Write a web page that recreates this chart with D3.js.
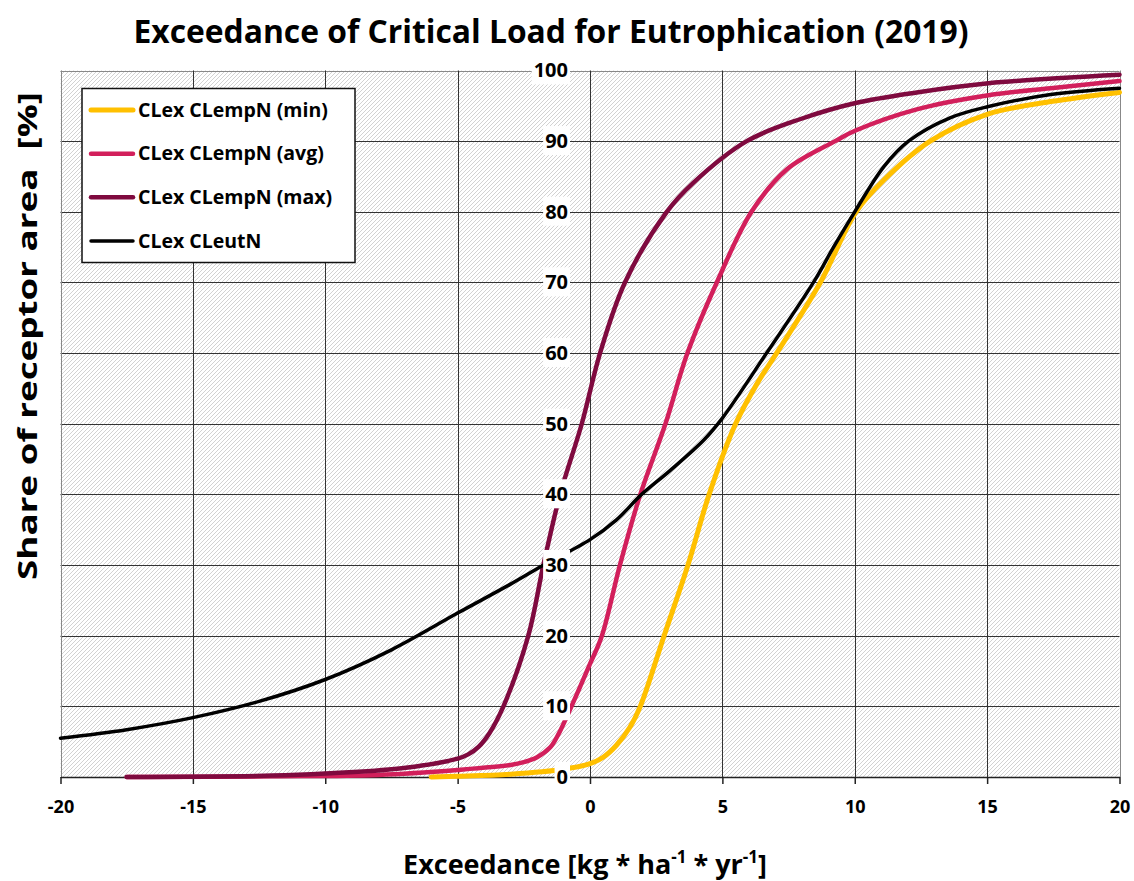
<!DOCTYPE html>
<html>
<head>
<meta charset="utf-8">
<script src="https://cdn.jsdelivr.net/npm/d3@7"></script>
<style>
  body { margin: 0; background: #fff; }
  text { font-family: "Open Sans", sans-serif; }
</style>
</head>
<body>
<div id="chart"></div>
<script>
// exceedance (kg N / ha / yr) vs. cumulative share of receptor area (%)
const minX = [-6, -5, -3, -1, 0, 0.5, 1, 1.5, 1.9, 2.8, 3.7, 4.5, 5.5, 6.36, 7.05, 8.7, 10.05, 11.1, 12.85, 15, 17.4, 20];
const minY = [0, 0.1, 0.4, 1.1, 1.9, 2.8, 4.5, 7, 10, 20, 30, 40, 50, 56, 60, 70, 80, 84.5, 90, 93.8, 95.6, 96.9];

const avgX = [-17.5, -12, -8, -5, -3, -2.5, -2, -1.5, -1.2, -0.7, 0, 0.45, 1.13, 1.9, 2.85, 3.68, 4.79, 6.1, 7.43, 9.26, 10.03, 12.34, 15.05, 17.4, 20];
const avgY = [0, 0.1, 0.3, 1.0, 1.7, 2.1, 2.8, 4.2, 6, 10, 16, 20, 30, 40, 50, 60, 70, 80, 86, 90, 91.5, 94.5, 96.5, 97.5, 98.5];

const maxX = [-17.5, -12, -10, -7.2, -5, -4.6, -4.2, -3.8, -3.27, -2.33, -1.76, -1.13, -0.31, 0.38, 1.32, 2.9, 3.9, 5.92, 7.93, 10.03, 12.34, 15.05, 20];
const maxY = [0, 0.2, 0.5, 1.2, 2.6, 3.2, 4.3, 6.2, 10, 20, 30, 40, 50, 60, 70, 80, 84.1, 90, 93.1, 95.4, 96.9, 98.2, 99.4];

const eutX = [-20, -17.5, -15, -12.5, -10, -7.5, -5, -3, -1.8, 0, 1, 1.95, 3, 4.3, 5, 6.67, 8.44, 9.2, 10, 11.1, 12.03, 13.6, 15.05, 17.4, 20];
const eutY = [5.5, 6.7, 8.4, 10.7, 13.8, 18.0, 23.2, 27.3, 29.9, 33.6, 36.4, 40, 43.3, 47.7, 50.8, 60, 70, 75, 80, 86.4, 90, 93.3, 94.9, 96.6, 97.5];

const seriesNames = ["CLex CLempN (min)", "CLex CLempN (avg)", "CLex CLempN (max)", "CLex CLeutN"];
const seriesColors = ["#FFC000", "#D21F5B", "#7F0A3F", "#000000"];
const seriesWidths = [5, 4.5, 4.5, 3.5];

const xTicks = [-20, -15, -10, -5, 0, 5, 10, 15, 20];
const yTicks = [0, 10, 20, 30, 40, 50, 60, 70, 80, 90, 100];

const series = [
  d3.zip(minX, minY),
  d3.zip(avgX, avgY),
  d3.zip(maxX, maxY),
  d3.zip(eutX, eutY)
];

const width = 1134, height = 881;
const plot = { left: 60.5, right: 1119.5, top: 70.5, bottom: 777 };

const svg = d3.select("#chart").append("svg")
  .attr("width", width)
  .attr("height", height);

// hatched plot background
const defs = svg.append("defs");
const pat = defs.append("pattern")
  .attr("id", "hatch")
  .attr("patternUnits", "userSpaceOnUse")
  .attr("width", 4)
  .attr("height", 4);
pat.append("rect").attr("width", 4).attr("height", 4).attr("fill", "#fff");
pat.append("path")
  .attr("d", "M-1,1 l2,-2 M0,4 l4,-4 M3,5 l2,-2")
  .attr("stroke", "#cdcdcd")
  .attr("stroke-width", 0.9);

const x = d3.scaleLinear().domain([-20, 20]).range([plot.left, plot.right]);
const y = d3.scaleLinear().domain([0, 100]).range([plot.bottom, plot.top]);

svg.append("rect")
  .attr("x", plot.left)
  .attr("y", plot.top)
  .attr("width", plot.right - plot.left)
  .attr("height", plot.bottom - plot.top)
  .attr("fill", "url(#hatch)");

// grid
svg.append("g")
  .selectAll("line")
  .data(yTicks)
  .join("line")
  .attr("x1", plot.left).attr("x2", plot.right)
  .attr("y1", d => Math.round(y(d)) + 0.5).attr("y2", d => Math.round(y(d)) + 0.5)
  .attr("stroke", d => d == 100 ? "#888" : "#333")
  .attr("stroke-width", 1);

svg.append("g")
  .selectAll("line")
  .data(xTicks)
  .join("line")
  .attr("y1", plot.top).attr("y2", plot.bottom)
  .attr("x1", d => Math.round(x(d)) + 0.5).attr("x2", d => Math.round(x(d)) + 0.5)
  .attr("stroke", d => (d == -20 || d == 20) ? "#888" : "#333")
  .attr("stroke-width", 1);

// x axis
const xAxis = svg.append("g")
  .attr("transform", `translate(0,${plot.bottom})`)
  .call(d3.axisBottom(x).tickValues(xTicks).tickFormat(d => String(d))
    .tickSize(7).tickPadding(16).tickSizeOuter(0));
xAxis.select(".domain").attr("stroke", "#222").attr("stroke-width", 1.5);
xAxis.selectAll(".tick line").attr("stroke", "#222").attr("stroke-width", 1.5);
xAxis.selectAll("text")
  .attr("font-size", "18px")
  .attr("font-weight", 700)
  .attr("fill", "#000");

// lines
const line = d3.line()
  .x(d => x(d[0]))
  .y(d => y(d[1]))
  .curve(d3.curveCatmullRom.alpha(0.5));

svg.append("g")
  .selectAll("path")
  .data(series)
  .join("path")
  .attr("d", line)
  .attr("fill", "none")
  .attr("stroke", (d, i) => seriesColors[i])
  .attr("stroke-width", (d, i) => seriesWidths[i])
  .attr("stroke-linejoin", "round")
  .attr("stroke-linecap", "round");

// y axis labels sitting at x = 0
const yAxis = svg.append("g")
  .attr("transform", `translate(${x(0)},0)`)
  .call(d3.axisLeft(y).tickValues(yTicks).tickSize(0).tickPadding(22));
yAxis.select(".domain").remove();
yAxis.selectAll("text")
  .attr("font-size", "20px")
  .attr("font-weight", 700)
  .attr("fill", "#000");
yAxis.selectAll(".tick").each(function () {
  const t = d3.select(this).select("text");
  const b = t.node().getBBox();
  d3.select(this).insert("rect", "text")
    .attr("x", b.x - 2)
    .attr("y", b.y - 1)
    .attr("width", b.width + 4)
    .attr("height", b.height + 2)
    .attr("fill", "#fff");
});

// legend
const legend = svg.append("g");
legend.append("rect")
  .attr("x", 82).attr("y", 88.5)
  .attr("width", 273).attr("height", 174)
  .attr("fill", "#fff")
  .attr("stroke", "#111")
  .attr("stroke-width", 1.5);

const rowY = d3.scalePoint().domain(d3.range(4)).range([110, 241]);
const items = legend.selectAll("g.item")
  .data(seriesNames)
  .join("g")
  .attr("class", "item")
  .attr("transform", (d, i) => `translate(0,${rowY(i)})`);
items.append("line")
  .attr("x1", 91).attr("x2", 133)
  .attr("stroke", (d, i) => seriesColors[i])
  .attr("stroke-width", (d, i) => seriesWidths[i])
  .attr("stroke-linecap", "round");
items.append("text")
  .attr("x", 138)
  .attr("dy", "0.35em")
  .attr("font-size", "19.5px")
  .attr("font-weight", 700)
  .attr("fill", "#000")
  .text(d => d);

// titles
svg.append("text")
  .attr("x", 551)
  .attr("y", 43)
  .attr("text-anchor", "middle")
  .attr("font-size", "32px")
  .attr("font-weight", 700)
  .attr("textLength", 835)
  .attr("lengthAdjust", "spacingAndGlyphs")
  .text("Exceedance of Critical Load for Eutrophication (2019)");

svg.append("text")
  .attr("transform", "translate(37,336) rotate(-90)")
  .attr("text-anchor", "middle")
  .attr("font-size", "27px")
  .attr("font-weight", 700)
  .attr("textLength", 488)
  .attr("lengthAdjust", "spacingAndGlyphs")
  .style("white-space", "pre")
  .text("Share of receptor area  [%]");

const xt = svg.append("text")
  .attr("x", 585)
  .attr("y", 874)
  .attr("text-anchor", "middle")
  .attr("font-size", "27px")
  .attr("font-weight", 700);
xt.append("tspan").text("Exceedance [kg * ha");
xt.append("tspan").attr("font-size", "17px").attr("dy", -11).text("-1");
xt.append("tspan").attr("dy", 11).text(" * yr");
xt.append("tspan").attr("font-size", "17px").attr("dy", -11).text("-1");
xt.append("tspan").attr("dy", 11).text("]");
</script>
</body>
</html>
